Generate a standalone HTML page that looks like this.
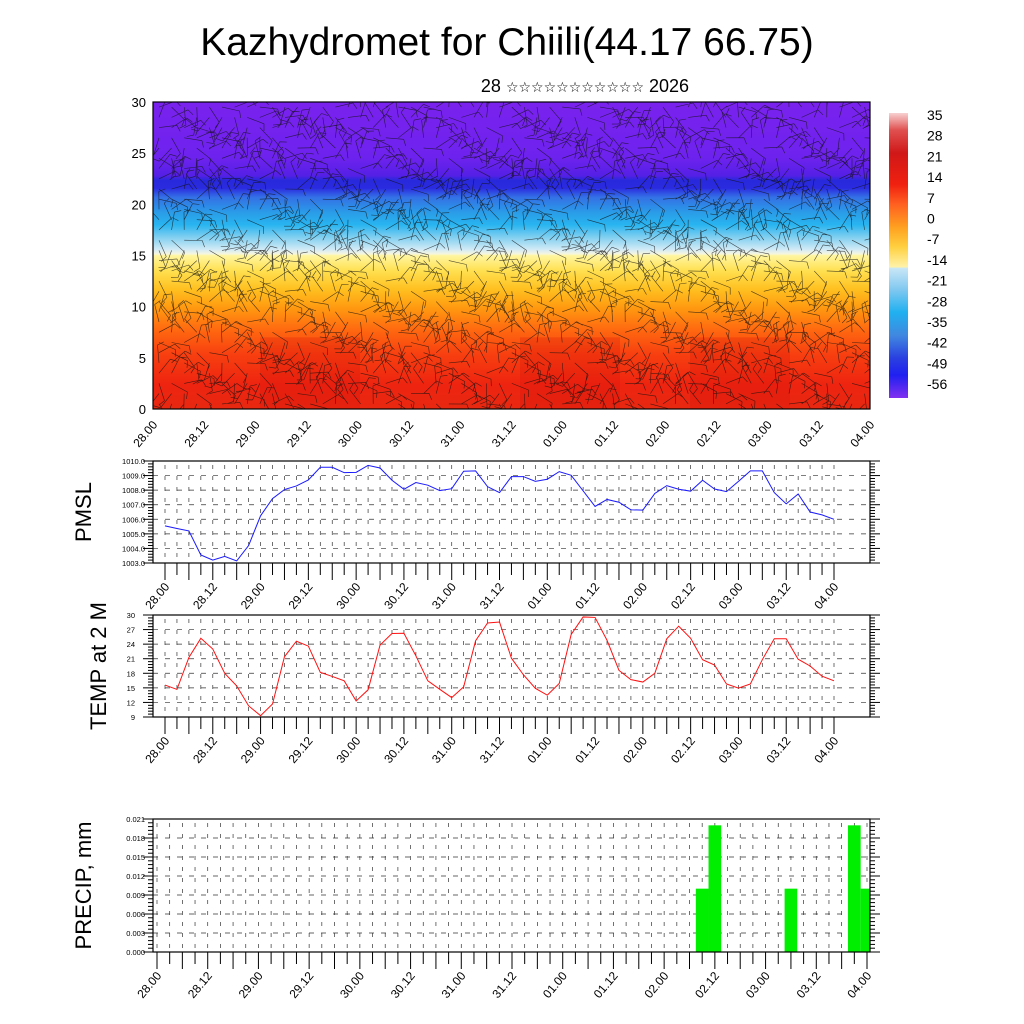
<!DOCTYPE html>
<html><head><meta charset="utf-8"><style>
body{margin:0;background:#fff}
svg{display:block;font-family:"Liberation Sans","DejaVu Sans",sans-serif}
</style></head><body>
<svg id="chart" width="1024" height="1024" viewBox="0 0 1024 1024" xmlns="http://www.w3.org/2000/svg">
<defs>
<clipPath id="topclip"><rect x="153" y="102" width="717" height="307"/></clipPath>
<linearGradient id="profile" x1="0" y1="0" x2="0" y2="1">
<stop offset="0" stop-color="#7a22ee"/>
<stop offset="0.18" stop-color="#6e22ee"/>
<stop offset="0.24" stop-color="#5520e6"/>
<stop offset="0.255" stop-color="#2828dc"/>
<stop offset="0.28" stop-color="#2a2ae0"/>
<stop offset="0.31" stop-color="#3470e6"/>
<stop offset="0.36" stop-color="#2a9ce8"/>
<stop offset="0.40" stop-color="#28b4f0"/>
<stop offset="0.44" stop-color="#80cff0"/>
<stop offset="0.48" stop-color="#d0eaf6"/>
<stop offset="0.495" stop-color="#f6f6e0"/>
<stop offset="0.50" stop-color="#fff6a0"/>
<stop offset="0.55" stop-color="#ffe050"/>
<stop offset="0.61" stop-color="#ffc020"/>
<stop offset="0.67" stop-color="#ff9a10"/>
<stop offset="0.74" stop-color="#ff6a10"/>
<stop offset="0.82" stop-color="#f84010"/>
<stop offset="0.92" stop-color="#ee2410"/>
<stop offset="1" stop-color="#e82810"/>
</linearGradient>
<linearGradient id="cbar" x1="0" y1="0" x2="0" y2="1">
<stop offset="0" stop-color="#f8d0d0"/>
<stop offset="0.06" stop-color="#e05050"/>
<stop offset="0.14" stop-color="#d01818"/>
<stop offset="0.25" stop-color="#f02010"/>
<stop offset="0.32" stop-color="#ff6020"/>
<stop offset="0.40" stop-color="#ffa020"/>
<stop offset="0.47" stop-color="#ffd040"/>
<stop offset="0.54" stop-color="#fff2a8"/>
<stop offset="0.545" stop-color="#c8e6f6"/>
<stop offset="0.62" stop-color="#80c8f0"/>
<stop offset="0.70" stop-color="#20b0f0"/>
<stop offset="0.78" stop-color="#4088e0"/>
<stop offset="0.86" stop-color="#2a40e0"/>
<stop offset="0.92" stop-color="#2020f0"/>
<stop offset="1" stop-color="#8030f0"/>
</linearGradient>
</defs>
<text x="507" y="55" font-size="39" text-anchor="middle">Kazhydromet for Chiili(44.17 66.75)</text>
<text x="585" y="92" font-size="18" text-anchor="middle">28 <tspan font-size="14">☆☆☆☆☆☆☆☆☆☆☆</tspan> 2026</text>
<g id="top"></g>
<g id="pmsl"></g>
<g id="temp"></g>
<g id="precip"></g>
</svg>
<script>
const timeLabels = ["28.00","28.12","29.00","29.12","30.00","30.12","31.00","31.12","01.00","01.12","02.00","02.12","03.00","03.12","04.00"];
const pmslValues = [1005.55,1005.37,1005.2,1003.55,1003.2,1003.45,1003.14,1004.2,1006.24,1007.42,1008.04,1008.29,1008.7,1009.57,1009.57,1009.2,1009.22,1009.7,1009.52,1008.68,1008.06,1008.52,1008.34,1007.97,1008.1,1009.3,1009.32,1008.24,1007.83,1008.93,1008.93,1008.6,1008.75,1009.27,1009.02,1007.95,1006.88,1007.36,1007.17,1006.65,1006.63,1007.77,1008.31,1008.06,1007.93,1008.68,1008.08,1007.9,1008.6,1009.32,1009.32,1007.83,1007.06,1007.74,1006.5,1006.3,1006.0];
const tempValues = [15.57,14.68,21.25,25.2,23.0,18.0,15.4,11.3,9.27,11.67,21.4,24.6,23.6,18.2,17.35,16.45,12.3,14.6,23.8,26.2,26.24,21.6,16.45,14.7,13.0,15.2,24.7,28.36,28.56,21.1,17.7,14.9,13.5,15.9,26.0,29.6,29.5,24.8,18.6,16.7,16.2,18.0,25.1,27.7,25.2,20.8,19.7,15.8,14.95,15.8,20.8,25.1,25.1,20.9,19.5,17.4,16.45];
const precipIndex = [43,44,50,55,56];
const precipValues = [0.01,0.02,0.01,0.02,0.01];
const pmslTicks = [1003,1004,1005,1006,1007,1008,1009,1010];
const tempTicks = [9,12,15,18,21,24,27,30];
const precipTicks = [0,0.003,0.006,0.009,0.012,0.015,0.018,0.021];
const heightTicks = [0,5,10,15,20,25,30];
const cbarLabels = ["35","28","21","14","7","0","-7","-14","-21","-28","-35","-42","-49","-56"];

const NS="http://www.w3.org/2000/svg";
function mk(parent,tag,attrs,text){const e=document.createElementNS(NS,tag);for(const k in attrs)e.setAttribute(k,attrs[k]);if(text!==undefined)e.textContent=text;parent.appendChild(e);return e;}

function xAxisLabels(g,ax0,ax1,bottom,n,fs,dy){
  timeLabels.forEach((lab,i)=>{
    const x=ax0+(ax1-ax0)*i*4/n;
    const t=mk(g,'text',{x:x+5,y:bottom+dy,'font-size':fs,'text-anchor':'end',transform:`rotate(-50 ${x+5} ${bottom+dy})`},lab);
    
    
  });
}

// ---------- top panel ----------
(function(){
  const g=document.getElementById('top');
  const L=153,R=870,T=102,B=409;
  const ys=h=>B-(B-T)*h/30;
  const bg=mk(g,'rect',{x:L,y:T,width:R-L,height:B-T,fill:'url(#profile)'});
  
  
  [[260,360],[520,620],[690,790]].forEach(([a,b])=>{
    const r=mk(g,'rect',{x:a,y:ys(7),width:b-a,height:ys(0)-ys(7),fill:'#d81008',opacity:0.25});
    
    
  });
  const wb=mk(g,'g',{stroke:'#111',"stroke-width":0.6,opacity:0.75,'clip-path':'url(#topclip)'});
  
  
  let d='';
  for(let i=0;i<57;i++){for(let j=0;j<30;j++){
    const x=L+6+i*12.6, y=ys(j+0.5);
    const a=Math.sin(i*0.7+j*1.3)*1.4+Math.cos(i*0.23-j*0.5);
    const len=18;
    const x2=x+len*Math.cos(a), y2=y+len*Math.sin(a);
    d+=`M${x.toFixed(1)} ${y.toFixed(1)}L${x2.toFixed(1)} ${y2.toFixed(1)}`;
    const b=a+1.2;
    d+=`M${x2.toFixed(1)} ${y2.toFixed(1)}l${(7*Math.cos(b)).toFixed(1)} ${(7*Math.sin(b)).toFixed(1)}`;
  }}
  mk(wb,'path',{d:d,fill:'none'});
  mk(g,'rect',{x:L,y:T,width:R-L,height:B-T,fill:'none',stroke:'#000','stroke-width':1.2});
  heightTicks.forEach(h=>{
    const t=mk(g,'text',{x:146,y:ys(h)+5,'font-size':13,'text-anchor':'end'},String(h));
    
    
  });
  xAxisLabels(g,L,R,B,56,12,16);
  const cb=mk(g,'rect',{x:889,y:113,width:19,height:285,fill:'url(#cbar)'});
  
  
  cbarLabels.forEach((lab,i)=>{
    const t=mk(g,'text',{x:927,y:120+i*20.7,'font-size':14},lab);
    
    
  });
})();

function panel(id,opt){
  const g=document.getElementById(id);
  const {L,R,T,B,ax0,ax1,ticks,fmt,title,titleX}=opt;
  const ymin=ticks[0],ymax=ticks[ticks.length-1];
  const ys=v=>B-(B-T)*(v-ymin)/(ymax-ymin);
  const xs=i=>ax0+(ax1-ax0)*i/56;
  const grid=mk(g,'g',{stroke:'#333','stroke-width':0.7,'stroke-dasharray':'5,7',fill:'none'});
  
  
  ticks.forEach(v=>{ if(v!==ymin&&v!==ymax) mk(grid,'line',{x1:L,x2:R,y1:ys(v),y2:ys(v)}); });
  for(let i=0;i<=56;i++) mk(grid,'line',{x1:xs(i),x2:xs(i),y1:T+4,y2:B,'stroke-dasharray':'4,7'});
  if(opt.draw) opt.draw(g,xs,ys);
  mk(g,'rect',{x:L,y:T,width:R-L,height:B-T,fill:'none',stroke:'#000','stroke-width':1.2});
  const tk=mk(g,'g',{stroke:'#000','stroke-width':1});
  ticks.forEach((v,k)=>{
    mk(tk,'line',{x1:L-10,x2:L,y1:ys(v),y2:ys(v)});
    mk(tk,'line',{x1:R,x2:R+10,y1:ys(v),y2:ys(v)});
    if(k<ticks.length-1){for(let m=1;m<5;m++){const yy=ys(v)+(ys(ticks[k+1])-ys(v))*m/5;
      mk(tk,'line',{x1:L-5,x2:L,y1:yy,y2:yy});mk(tk,'line',{x1:R,x2:R+5,y1:yy,y2:yy});}}
    const t=mk(g,'text',{x:L-4-(opt.labGap||8),y:ys(v)+3,'font-size':7.5,'text-anchor':'end'},fmt(v));
    
    
  });
  for(let i=0;i<=56;i++) mk(tk,'line',{x1:xs(i),x2:xs(i),y1:B,y2:B+(i%2===0?17:12)});
  xAxisLabels(g,ax0,ax1,B,56,12,24);
  const yt=mk(g,'text',{x:titleX,y:(T+B)/2,'font-size':22,'text-anchor':'middle',transform:`rotate(-90 ${titleX} ${(T+B)/2})`},title);
  
  
}

panel('pmsl',{L:153,R:870,T:461,B:563,ax0:165,ax1:834,ticks:pmslTicks,fmt:v=>v.toFixed(1),title:'PMSL',titleX:91,labGap:4,
  draw:(g,xs,ys)=>{const p=mk(g,'polyline',{points:pmslValues.map((v,i)=>xs(i)+','+ys(v)).join(' '),fill:'none',stroke:'#1a1aff','stroke-width':1});
    }});
panel('temp',{L:153,R:870,T:615,B:717,ax0:165,ax1:834,ticks:tempTicks,fmt:v=>String(v),title:'TEMP at 2 M',titleX:106,labGap:14,
  draw:(g,xs,ys)=>{const p=mk(g,'polyline',{points:tempValues.map((v,i)=>xs(i)+','+ys(v)).join(' '),fill:'none',stroke:'#ff1010','stroke-width':1});
    }});
panel('precip',{L:153,R:870,T:819,B:952,ax0:157,ax1:867,ticks:precipTicks,fmt:v=>v.toFixed(3),title:'PRECIP, mm',titleX:91,labGap:4,
  draw:(g,xs,ys)=>{precipIndex.forEach((idx,k)=>{const w=(xs(1)-xs(0));const x=xs(idx)-w/2;const xr=Math.min(x+w,870);
    const r=mk(g,'rect',{x:x,y:ys(precipValues[k]),width:xr-x,height:ys(0)-ys(precipValues[k]),fill:'#00ee00'});
    });}});
</script>
</body></html>
